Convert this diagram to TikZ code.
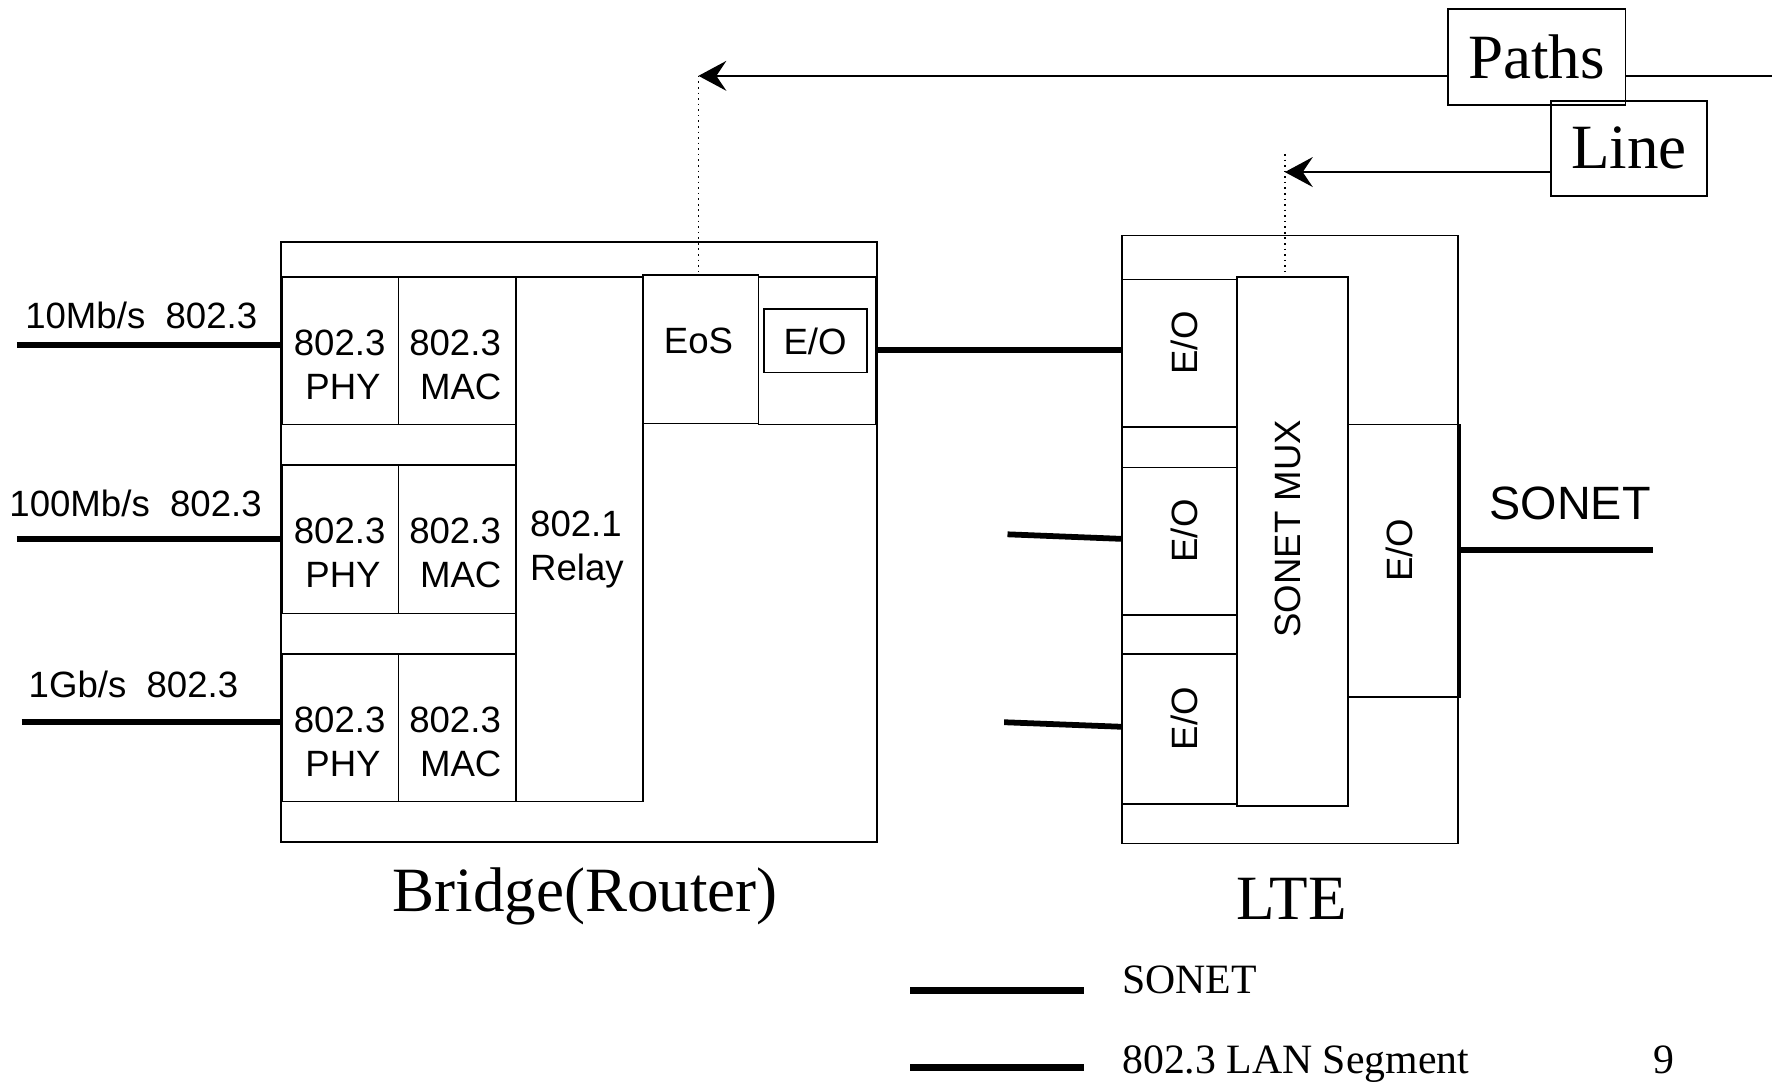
\documentclass[tikz,border=0pt]{standalone}
\usepackage{fontspec}
\setmainfont{Liberation Serif}
\setsansfont{Liberation Sans}
\usetikzlibrary{arrows.meta}
\tikzset{
  box/.style={draw, line width=0.85pt, inner sep=0pt},
  sl/.style={font=\sffamily\fontsize{18.4}{22}\selectfont, inner sep=0pt},
  slbig/.style={font=\sffamily\fontsize{23.5}{28}\selectfont, inner sep=0pt},
  serbig/.style={font=\fontsize{31.7}{38}\selectfont, inner sep=0pt},
  serleg/.style={font=\fontsize{21}{25}\selectfont, inner sep=0pt},
  lan/.style={line width=2.9pt},
  legline/.style={line width=3.6pt},
  arr/.style={line width=1.1pt, -{Stealth[length=14pt, width=15pt, inset=5pt]}},
  plain/.style={line width=1.1pt},
  dots/.style={line width=0.8pt, dotted}
}
\newcommand\bx[5]{\node[box, minimum width={(#4-#2)*0.02cm}, minimum height={(#5-#3)*0.02cm}] (#1) at ({(#2+#4)/2},{(#3+#5)/2}) {};}
\begin{document}
\begin{tikzpicture}[x=0.02cm, y=-0.02cm]
\useasboundingbox (0,0) rectangle (1568,956);

% ---------- Bridge ----------
\bx{bridge}{248}{214}{775}{744}
\bx{phyA}{249}{245}{352}{375}
\bx{macA}{352}{245}{456}{375}
\bx{phyB}{249}{411}{352}{542}
\bx{macB}{352}{411}{456}{542}
\bx{phyC}{249}{578}{352}{708}
\bx{macC}{352}{578}{456}{708}
\bx{relay}{456}{245}{568}{708}
\bx{eos}{568}{243}{670}{374}
\bx{eob}{670}{245}{774}{375}
\bx{eobin}{675}{273}{766}{329}

\node[sl, anchor=base] (tpa1) at (300,314) {802.3};
\node[sl, anchor=base] (tpa2) at (303,353) {PHY};
\node[sl, anchor=base] (tma1) at (402,314) {802.3};
\node[sl, anchor=base] (tma2) at (407,353) {MAC};
\node[sl, anchor=base] (tpb1) at (300,480) {802.3};
\node[sl, anchor=base] (tpb2) at (303,519) {PHY};
\node[sl, anchor=base] (tmb1) at (402,480) {802.3};
\node[sl, anchor=base] (tmb2) at (407,519) {MAC};
\node[sl, anchor=base] (tpc1) at (300,647) {802.3};
\node[sl, anchor=base] (tpc2) at (303,686) {PHY};
\node[sl, anchor=base] (tmc1) at (402,647) {802.3};
\node[sl, anchor=base] (tmc2) at (407,686) {MAC};
\node[sl, anchor=base west] (tr1) at (468,474) {802.1};
\node[sl, anchor=base west] (tr2) at (468,513) {Relay};
\node[sl, anchor=base] (teos) at (617,312) {EoS};
\node[sl, anchor=base] (teob) at (720,313) {E/O};

\node[serbig, anchor=base] (bridgelbl) at (517,805) {Bridge(Router)};

% ---------- input LAN segments ----------
\node[sl, anchor=base west] (l10) at (22,290) {10Mb/s\ \ 802.3};
\node[sl, anchor=base west] (l100) at (8,456) {100Mb/s\ \ 802.3};
\node[sl, anchor=base west] (l1g) at (25,616) {1Gb/s\ \ 802.3};
\coordinate (in1) at (15,305);
\coordinate (in2) at (15,476);
\coordinate (in3) at (19,638);
\draw[lan] (in1) -- (phyA.west |- in1);
\draw[lan] (in2) -- (phyB.west |- in2);
\draw[lan] (in3) -- (phyC.west |- in3);

% ---------- LTE ----------
\bx{lte}{991}{208}{1288}{745}
\bx{eo1}{991}{247}{1093}{377}
\bx{eo2}{991}{413}{1093}{543}
\bx{eo3}{991}{578}{1093}{710}
\bx{mux}{1093}{245}{1191}{712}
\bx{eor}{1191}{375}{1290}{616}
\node[sl, rotate=90] (teo1) at (1046,303) {E/O};
\node[sl, rotate=90] (teo2) at (1046,469) {E/O};
\node[sl, rotate=90] (teo3) at (1046,635) {E/O};
\node[sl, rotate=90] (tmux) at (1138,467) {SONET MUX};
\node[sl, rotate=90] (teor) at (1236,486) {E/O};
\node[serbig, anchor=base] (ltelbl) at (1141,812) {LTE};

\node[slbig, anchor=base] (sonetr) at (1387,459) {SONET};
\coordinate (sEnd) at (1460,486);
\draw[lan] (eor.east |- sEnd) -- (sEnd);

% bridge to LTE
\draw[lan] (eob.east |- 0,309) -- (eo1.west |- 0,309);
\coordinate (t2) at (890,472);
\coordinate (t3) at (887,638);
\draw[lan] (t2) -- (eo2.west |- 0,476);
\draw[lan] (t3) -- (eo3.west |- 0,642);

% ---------- Paths / Line ----------
\node[box, serbig, minimum width={157*0.02cm}, minimum height={85*0.02cm}] (paths) at (1357.5,50.5) {Paths};
\node[box, serbig, minimum width={138*0.02cm}, minimum height={84*0.02cm}] (line) at (1439,131) {Line};
\coordinate (pEnd) at (617,67);
\coordinate (pRight) at (1565,67);
\draw[arr] (paths.west |- pEnd) -- (pEnd);
\draw[plain] (paths.east |- pRight) -- (pRight);
\draw[dots] (pEnd) -- (pEnd |- eos.north);
\coordinate (lEnd) at (1135,152);
\coordinate (lDot) at (1135,136);
\draw[arr] (line.west |- lEnd) -- (lEnd);
\draw[dots] (lDot) -- (lDot |- mux.north);

% ---------- legend ----------
\coordinate (lg1a) at (804,875);
\coordinate (lg1b) at (958,875);
\coordinate (lg2a) at (804,943);
\coordinate (lg2b) at (958,943);
\draw[legline] (lg1a) -- (lg1b);
\draw[legline] (lg2a) -- (lg2b);
\node[serleg, anchor=base west] (leg1) at (991,878) {SONET};
\node[serleg, anchor=base west] (leg2) at (991,948) {802.3 LAN Segment};
\node[serleg, anchor=base] (pg) at (1470,948) {9};
\end{tikzpicture}
\end{document}
